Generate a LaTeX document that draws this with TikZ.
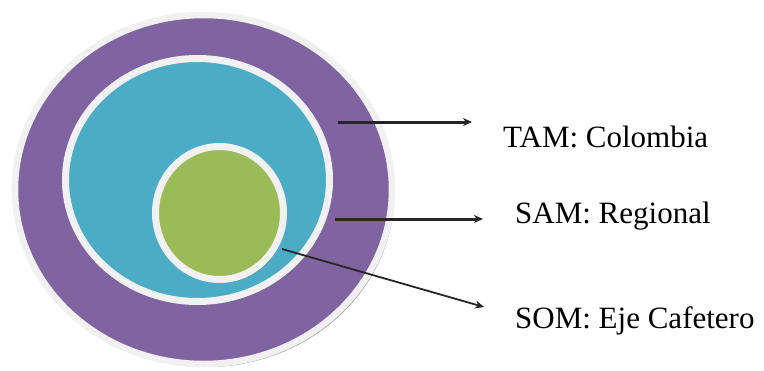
\documentclass[tikz,border=0pt]{standalone}
\usepackage{fontspec}
\setmainfont{Liberation Serif}
\usetikzlibrary{shapes.geometric,arrows.meta,shadows}
\definecolor{tampurple}{HTML}{8064A2}
\definecolor{samteal}{HTML}{4BACC6}
\definecolor{somgreen}{HTML}{9BBB59}
\definecolor{rimwhite}{HTML}{F1F1F1}
\tikzset{
  ring/.style={ellipse, draw=rimwhite, inner sep=0pt,
    drop shadow={shadow xshift=2.5pt, shadow yshift=-3pt, opacity=0.45, fill=black!70}},
  label/.style={inner sep=0pt, anchor=base west, font=\fontsize{31}{37}\selectfont},
  pointer/.style={draw=black!85, -{Stealth[length=9pt,width=8pt]}}
}
\begin{document}
\begin{tikzpicture}[x=1pt,y=-1pt]
\useasboundingbox (0,0) rectangle (764,370);
\node[ring, fill=tampurple, line width=6.5pt, minimum width=377pt, minimum height=349pt,
  drop shadow={shadow xshift=2.5pt, shadow yshift=-3pt, opacity=0.5, fill=black!45}] (tam) at (203.5,189.5) {};
\node[ring, fill=samteal, line width=7pt, minimum width=264pt, minimum height=243pt] (sam) at (197.5,180) {};
\node[ring, fill=somgreen, line width=7pt, minimum width=128pt, minimum height=133pt] (som) at (219.5,213) {};
\node[label] (ttam) at (503,147) {TAM: Colombia};
\node[label] (tsam) at (515,223) {SAM: Regional};
\node[label] (tsom) at (515,328) {SOM: Eje Cafetero};
\coordinate (s1) at (338,122);
\coordinate (e1) at (472,122);
\coordinate (s2) at (335,219);
\coordinate (e2) at (483,219);
\coordinate (s3) at (282,249);
\coordinate (e3) at (484,307);
\draw[pointer, line width=3pt] (s1) -- (e1);
\draw[pointer, line width=3pt] (s2) -- (e2);
\draw[pointer, line width=1.8pt] (s3) -- (e3);
\end{tikzpicture}
\end{document}
